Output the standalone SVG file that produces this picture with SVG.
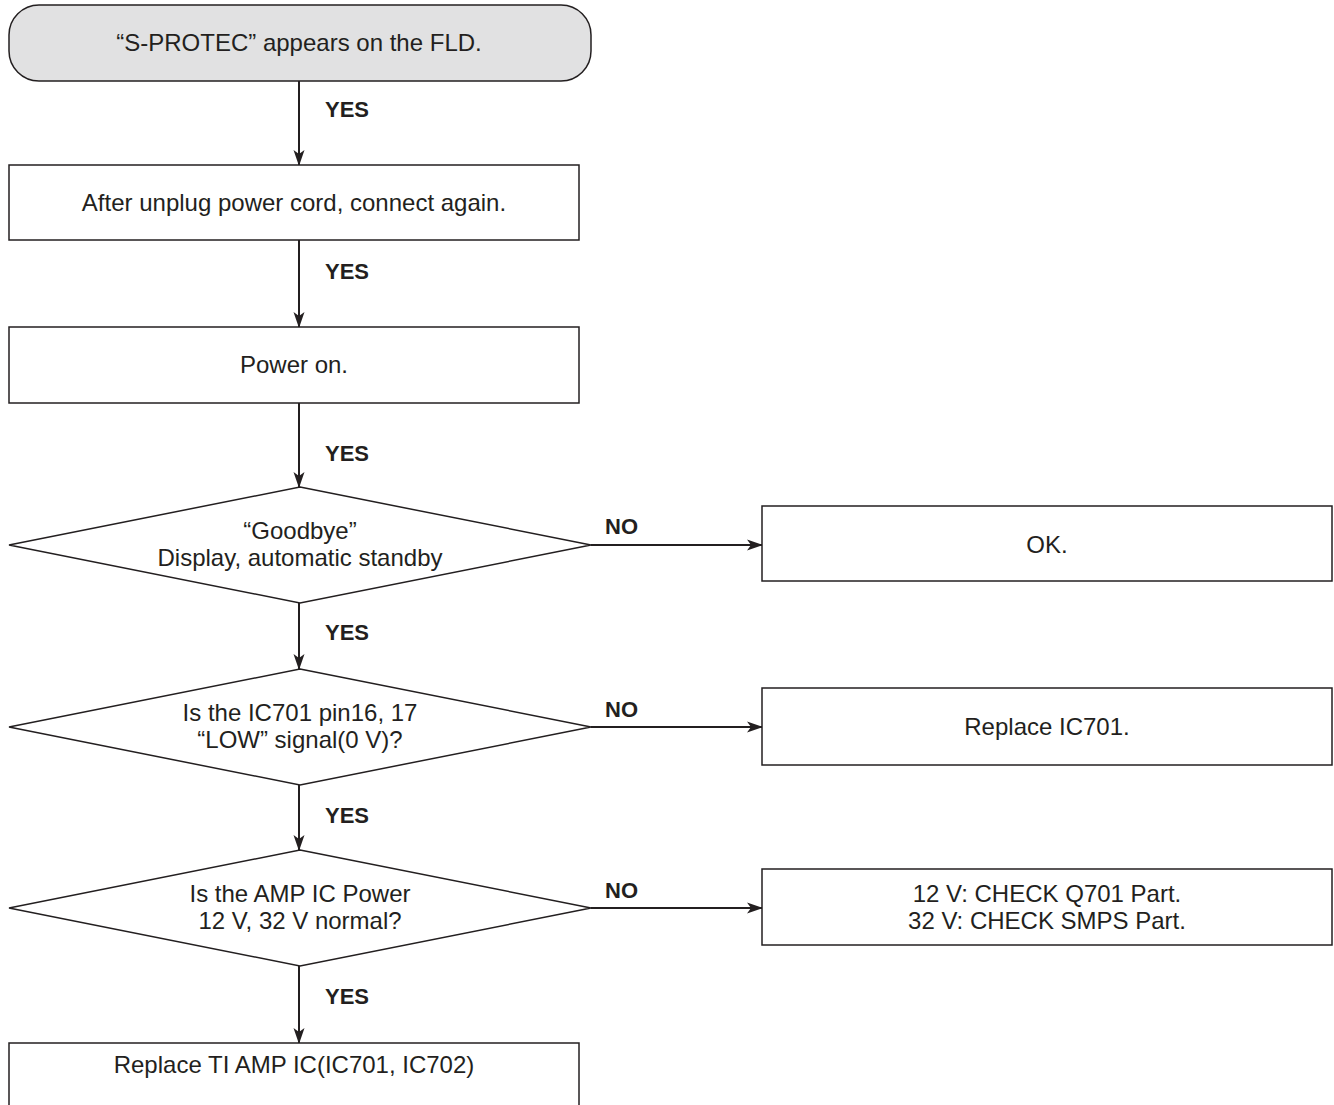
<svg xmlns="http://www.w3.org/2000/svg" width="1334" height="1105" viewBox="0 0 1334 1105">
  <style>
    .box { fill: #ffffff; stroke: #231f20; stroke-width: 1.5; }
    .start { fill: #e1e1e2; stroke: #231f20; stroke-width: 1.5; }
    .t { font-family: "Liberation Sans", Arial, sans-serif; font-size: 24px; fill: #231f20; text-anchor: middle; }
    .lbl { font-family: "Liberation Sans", Arial, sans-serif; font-size: 22px; font-weight: bold; fill: #231f20; }
    .wire { stroke: #231f20; stroke-width: 2; fill: none; marker-end: url(#arrow); }
  </style>
  <defs>
    <marker id="arrow" markerWidth="16" markerHeight="12" refX="15" refY="6" orient="auto" markerUnits="userSpaceOnUse">
      <path d="M0,0.5 L16,6 L0,11.5 L4,6 Z" fill="#231f20"/>
    </marker>
  </defs>
  <rect width="1334" height="1105" fill="#ffffff"/>

  <g id="connectors">
    <line class="wire" x1="299" y1="81" x2="299" y2="165"/>
    <line class="wire" x1="299" y1="240" x2="299" y2="327"/>
    <line class="wire" x1="299" y1="403" x2="299" y2="487"/>
    <line class="wire" x1="299" y1="603" x2="299" y2="669"/>
    <line class="wire" x1="299" y1="785" x2="299" y2="850"/>
    <line class="wire" x1="299" y1="966" x2="299" y2="1043"/>
    <line class="wire" x1="591" y1="545" x2="762" y2="545"/>
    <line class="wire" x1="591" y1="727" x2="762" y2="727"/>
    <line class="wire" x1="591" y1="908" x2="762" y2="908"/>
    <text class="lbl" x="325" y="117">YES</text>
    <text class="lbl" x="325" y="279">YES</text>
    <text class="lbl" x="325" y="461">YES</text>
    <text class="lbl" x="325" y="640">YES</text>
    <text class="lbl" x="325" y="823">YES</text>
    <text class="lbl" x="325" y="1004">YES</text>
    <text class="lbl" x="605" y="534">NO</text>
    <text class="lbl" x="605" y="717">NO</text>
    <text class="lbl" x="605" y="898">NO</text>
  </g>

  <g id="start">
    <rect class="start" x="9" y="5" width="582" height="76" rx="30" ry="30"/>
    <text class="t" x="299" y="51">“S-PROTEC” appears on the FLD.</text>
  </g>
  <g id="unplug">
    <rect class="box" x="9" y="165" width="570" height="75"/>
    <text class="t" x="294" y="211">After unplug power cord, connect again.</text>
  </g>
  <g id="power-on">
    <rect class="box" x="9" y="327" width="570" height="76"/>
    <text class="t" x="294" y="373">Power on.</text>
  </g>
  <g id="goodbye">
    <polygon class="box" points="300,487 591,545 300,603 9,545"/>
    <text class="t" x="300" y="539">“Goodbye”</text>
    <text class="t" x="300" y="566">Display, automatic standby</text>
  </g>
  <g id="ok">
    <rect class="box" x="762" y="506" width="570" height="75"/>
    <text class="t" x="1047" y="553">OK.</text>
  </g>
  <g id="pin-check">
    <polygon class="box" points="300,669 591,727 300,785 9,727"/>
    <text class="t" x="300" y="721">Is the IC701 pin16, 17</text>
    <text class="t" x="300" y="748">“LOW” signal(0 V)?</text>
  </g>
  <g id="replace-ic701">
    <rect class="box" x="762" y="688" width="570" height="77"/>
    <text class="t" x="1047" y="735">Replace IC701.</text>
  </g>
  <g id="power-check">
    <polygon class="box" points="300,850 591,908 300,966 9,908"/>
    <text class="t" x="300" y="902">Is the AMP IC Power</text>
    <text class="t" x="300" y="929">12 V, 32 V normal?</text>
  </g>
  <g id="check-parts">
    <rect class="box" x="762" y="869" width="570" height="76"/>
    <text class="t" x="1047" y="902">12 V: CHECK Q701 Part.</text>
    <text class="t" x="1047" y="929">32 V: CHECK SMPS Part.</text>
  </g>
  <g id="replace-amp">
    <rect class="box" x="9" y="1043" width="570" height="80"/>
    <text class="t" x="294" y="1073">Replace TI AMP IC(IC701, IC702)</text>
  </g>
</svg>
